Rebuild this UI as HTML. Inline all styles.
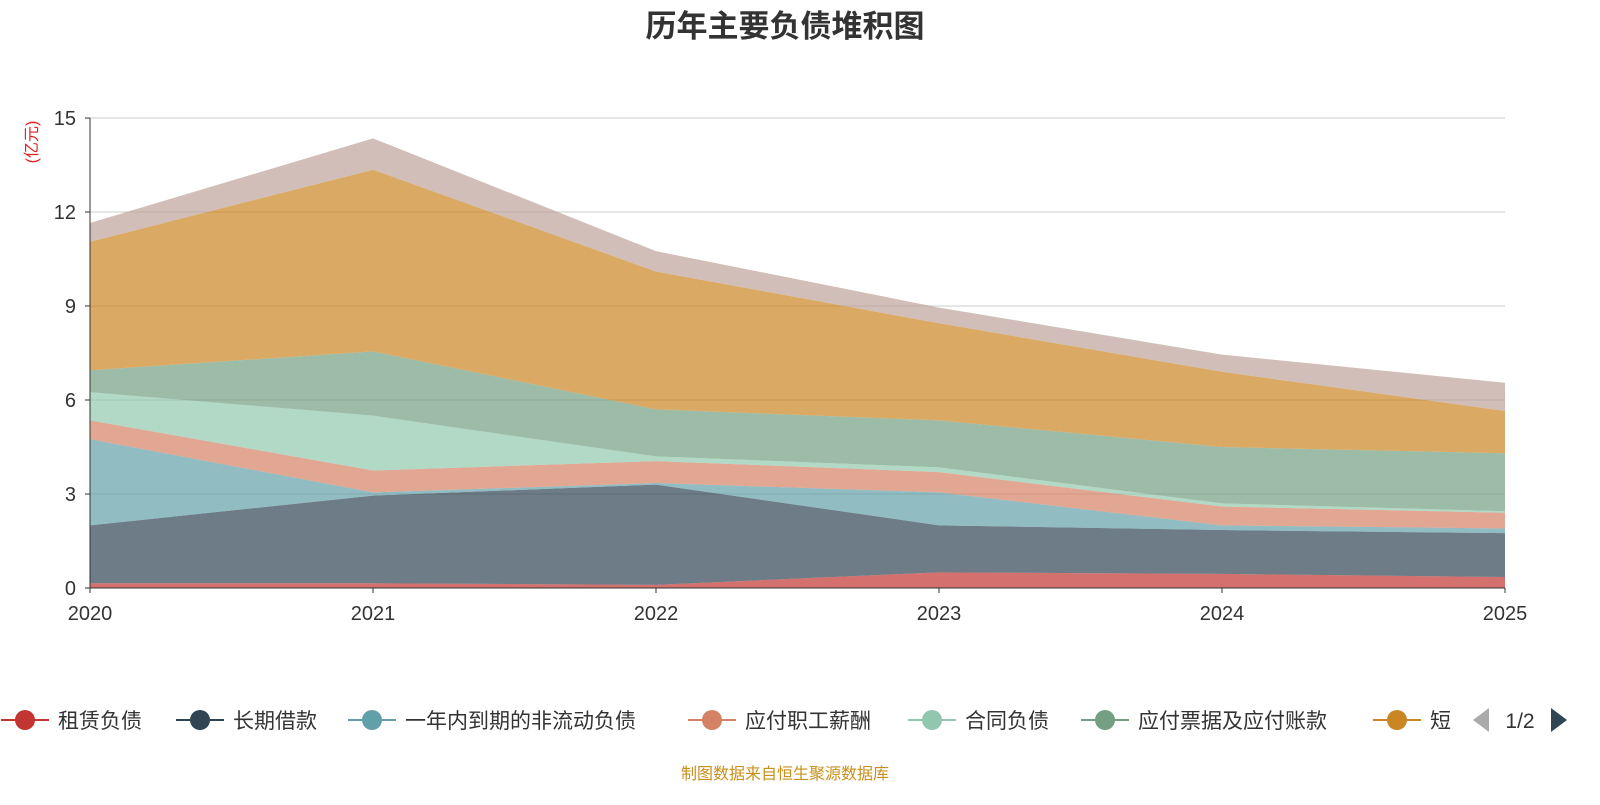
<!DOCTYPE html>
<html><head><meta charset="utf-8"><style>
body{margin:0;background:#fff;font-family:"Liberation Sans","Noto Sans CJK SC",sans-serif;}
</style></head><body>
<svg width="1600" height="800" xmlns="http://www.w3.org/2000/svg" font-family="Liberation Sans, Noto Sans CJK SC, sans-serif">
<text x="785" y="37" text-anchor="middle" font-size="31" font-weight="bold" fill="#333">历年主要负债堆积图</text>
<text transform="translate(37,142) rotate(-90)" text-anchor="middle" font-size="16" fill="#e02020">(亿元)</text>
<g id="grid"></g><g id="areas"></g><g id="axes"></g><g id="legend"></g>
<text x="785" y="779" text-anchor="middle" font-size="16" fill="#c8901a">制图数据来自恒生聚源数据库</text>
</svg>
<script>
const years=['2020','2021','2022','2023','2024','2025'];
const seriesNames=['租赁负债','长期借款','一年内到期的非流动负债','应付职工薪酬','合同负债','应付票据及应付账款','短期借款','其他'];
const rent=[0.15,0.15,0.1,0.5,0.45,0.35];
const longLoan=[1.85,2.8,3.2,1.5,1.4,1.4];
const currentNonCur=[2.75,0.1,0.05,1.05,0.15,0.15];
const payroll=[0.6,0.7,0.7,0.65,0.6,0.5];
const contract=[0.9,1.75,0.15,0.15,0.1,0.05];
const payable=[0.7,2.05,1.5,1.5,1.8,1.85];
const shortLoan=[4.1,5.8,4.4,3.1,2.4,1.35];
const other=[0.6,1.0,0.65,0.5,0.55,0.9];
const yTicks=[0,3,6,9,12,15];
const data=[rent,longLoan,currentNonCur,payroll,contract,payable,shortLoan,other];
const colors=['#c23531','#2f4554','#61a0a8','#d48265','#91c7ae','#749f83','#ca8622','#bda29a'];
const NS='http://www.w3.org/2000/svg';
const x0=90,x1=1505,y0=588,y1=118,yMax=15;
const X=i=>x0+(x1-x0)*i/(years.length-1);
const Y=v=>y0-(y0-y1)*v/yMax;
function mk(t,a,p){const e=document.createElementNS(NS,t);for(const k in a)e.setAttribute(k,a[k]);p.appendChild(e);return e;}
const grid=document.getElementById('grid'),areas=document.getElementById('areas'),axes=document.getElementById('axes'),leg=document.getElementById('legend');
yTicks.forEach(v=>{
 if(v>0){const l=mk('line',{x1:x0,x2:x1,y1:Y(v),y2:Y(v),stroke:'#ccc'},grid);
 
 }
 const t=mk('text',{x:x0-14,y:Y(v)+7,'text-anchor':'end','font-size':20,fill:'#333'},axes);t.textContent=v;
 
 
 mk('line',{x1:x0-5,x2:x0,y1:Y(v),y2:Y(v),stroke:'#333'},axes);
});
let base=years.map(()=>0);
data.forEach((s,k)=>{
 const top=base.map((b,i)=>b+s[i]);
 let d='M'+top.map((v,i)=>X(i)+','+Y(v)).join('L');
 for(let i=years.length-1;i>=0;i--)d+='L'+X(i)+','+Y(base[i]);
 const p=mk('path',{d:d+'Z',fill:colors[k],'fill-opacity':0.7},areas);
 
 
 base=top;
});
mk('line',{x1:x0,x2:x0,y1:y1,y2:y0,stroke:'#333'},axes);
mk('line',{x1:x0,x2:x1,y1:y0,y2:y0,stroke:'#333'},axes);
years.forEach((yr,i)=>{
 mk('line',{x1:X(i),x2:X(i),y1:y0,y2:y0+5,stroke:'#333'},axes);
 const t=mk('text',{x:X(i),y:y0+32,'text-anchor':'middle','font-size':20,fill:'#333'},axes);t.textContent=yr;
 
 
});
const lx=[25,200,372,712,932,1105,1397];
for(let k=0;k<7;k++){
 const g=mk('g',{},leg);
 
 
 mk('line',{x1:lx[k]-24,x2:lx[k]+24,y1:720,y2:720,stroke:colors[k],'stroke-width':2},g);
 mk('circle',{cx:lx[k],cy:720,r:10,fill:colors[k]},g);
 const t=mk('text',{x:lx[k]+33,y:728,'font-size':21,fill:'#333'},g);t.textContent=k==6?'短':seriesNames[k];
}
const pv=mk('path',{d:'M1489,708L1489,732L1473,720Z',fill:'#aaa'},leg);


const pt=mk('text',{x:1520,y:728,'text-anchor':'middle','font-size':21,fill:'#333'},leg);pt.textContent='1/2';


const nx=mk('path',{d:'M1551,708L1551,732L1567,720Z',fill:'#2f4554'},leg);


</script>
</body></html>
